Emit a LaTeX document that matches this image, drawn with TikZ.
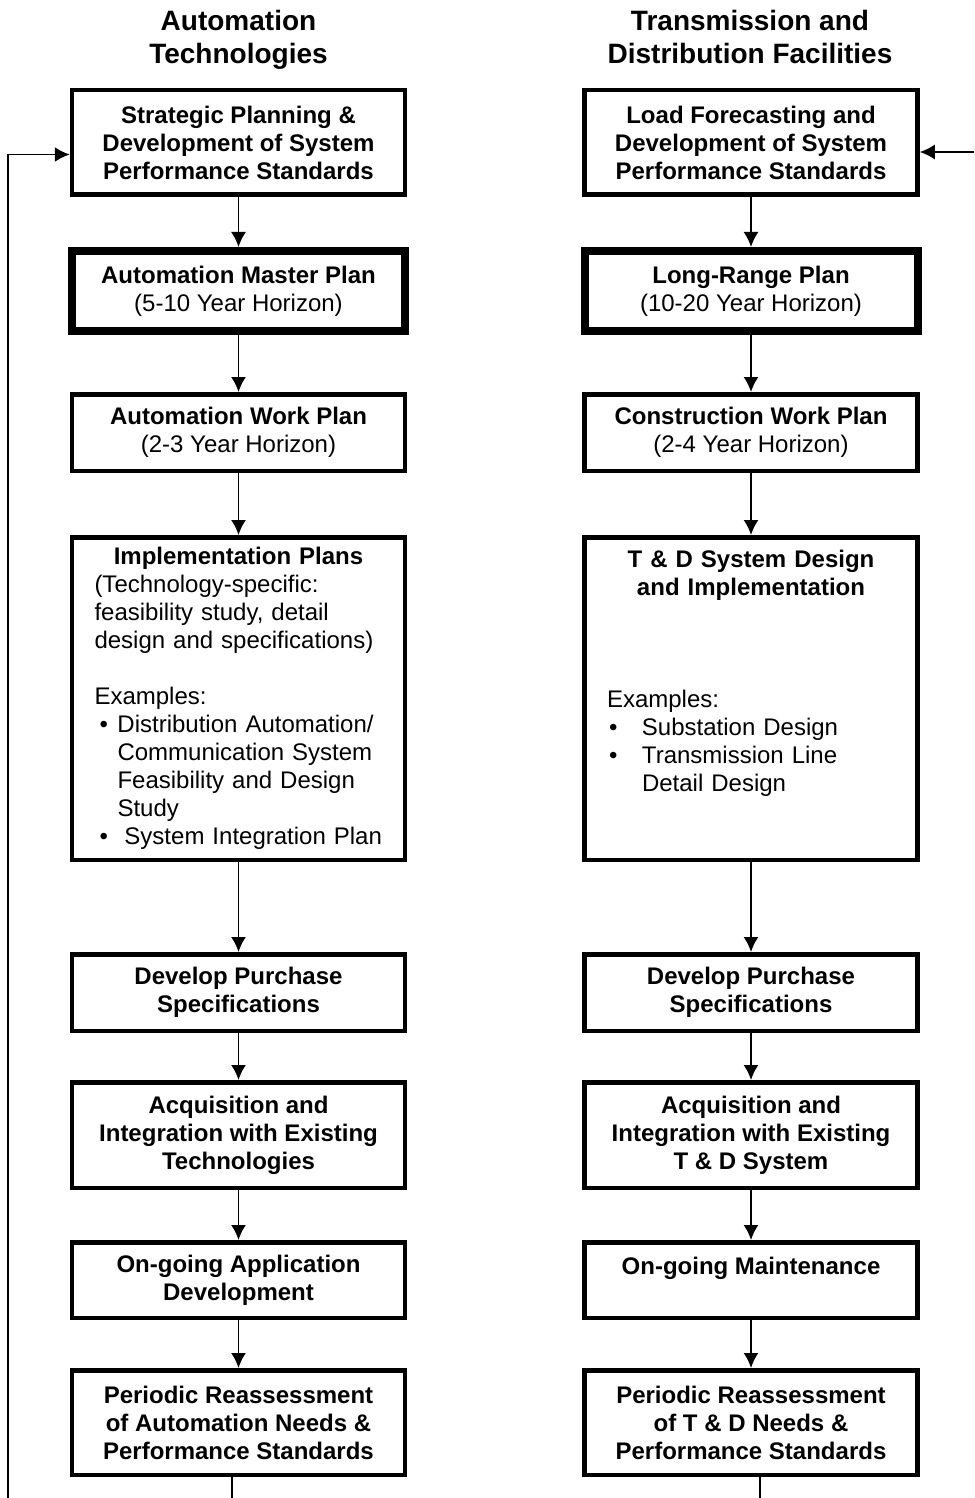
\documentclass[tikz,border=0pt]{standalone}
\usepackage{fontspec}
\setmainfont{Liberation Sans}
\usetikzlibrary{arrows.meta}
\setlength{\parindent}{0pt}
\newcommand{\bulitem}[2]{\hspace*{#1}\makebox[#2][l]{\textbullet}}

\begin{document}
\begin{tikzpicture}[x=0.5pt,y=-0.5pt,
    stage/.style ={draw, line width=2.25pt, minimum width=166.5pt, align=center,
                   inner sep=2pt, font=\fontsize{12}{14}\selectfont\bfseries},
    master/.style ={stage, line width=4pt},
    detail/.style ={stage, text width=144pt, align=left, inner xsep=11pt,
                    inner ysep=1pt, font=\fontsize{12}{14}\selectfont},
    heading/.style ={align=center, font=\fontsize{14}{16.5}\selectfont\bfseries},
    flow/.style ={line width=0.9pt, -{Latex[length=7.5pt,width=7.5pt]}},
    feed/.style ={line width=0.9pt}]
   \useasboundingbox (0,0) rectangle (974,1498);

   % column headings
   \node[heading] (hA) at (238.5,39.5) {Automation\\Technologies};
   \node[heading] (hT) at (750,36.5) {Transmission and\\Distribution Facilities};

   % automation column
   \node[stage, minimum height=52.25pt] (A1) at (238.5,142.5) {Strategic Planning \&\\Development of System\\Performance Standards};
   \node[master, minimum height=40pt] (A2) at (238.5,291) {Automation Master Plan\\\mdseries(5-10 Year Horizon)};
   \node[stage, minimum height=38.25pt] (A3) at (238.5,432.5) {Automation Work Plan\\\mdseries(2-3 Year Horizon)};
   \node[detail, minimum height=161.25pt] (A4) at (238.5,698.5) {{\centering\bfseries Implementation Plans\par}
      (Technology-specific:\\
      feasibility study, detail\\
      design and specifications)\\
      \mbox{}\\
      Examples:\\
      \bulitem{2.5pt}{9pt}Distribution Automation/\\
      \hspace*{11.5pt}Communication System\\
      \hspace*{11.5pt}Feasibility and Design\\
      \hspace*{11.5pt}Study\\
      \bulitem{2.5pt}{12.5pt}System Integration Plan};
   \node[stage, minimum height=38.25pt] (A5) at (238.5,992.5) {Develop Purchase\\Specifications};
   \node[stage, minimum height=52.75pt] (A6) at (238.5,1135) {Acquisition and\\Integration with Existing\\Technologies};
   \node[stage, minimum height=37.75pt] (A7) at (238.5,1280) {On-going Application\\Development};
   \node[stage, minimum height=52.25pt] (A8) at (238.5,1422.5) {Periodic Reassessment\\of Automation Needs \&\\Performance Standards};

   % T & D column
   \node[stage, minimum height=52.25pt] (T1) at (751,142.5) {Load Forecasting and\\Development of System\\Performance Standards};
   \node[master, minimum height=40pt] (T2) at (751,291) {Long-Range Plan\\\mdseries(10-20 Year Horizon)};
   \node[stage, minimum height=38.25pt] (T3) at (751,432.5) {Construction Work Plan\\\mdseries(2-4 Year Horizon)};
   \node[detail, minimum height=161.25pt] (T4) at (751,698.5) {{\centering\bfseries T \& D System Design\\and Implementation\par}
      \mbox{}\\
      \mbox{}\\
      \mbox{}\\
      Examples:\\
      \bulitem{1pt}{16.5pt}Substation Design\\
      \bulitem{1pt}{16.5pt}Transmission Line\\
      \hspace*{17.5pt}Detail Design\\
      \mbox{}\\
      \mbox{}};
   \node[stage, minimum height=38.25pt] (T5) at (751,992.5) {Develop Purchase\\Specifications};
   \node[stage, minimum height=52.75pt] (T6) at (751,1135) {Acquisition and\\Integration with Existing\\T \& D System};
   \node[stage, minimum height=37.75pt] (T7) at (751,1280) {On-going Maintenance\\\mbox{}};
   \node[stage, minimum height=52.25pt] (T8) at (751,1422.5) {Periodic Reassessment\\of T \& D Needs \&\\Performance Standards};

   \draw[flow] (A1) -- (A2);
   \draw[flow] (A2) -- (A3);
   \draw[flow] (A3) -- (A4);
   \draw[flow] (A4) -- (A5);
   \draw[flow] (A5) -- (A6);
   \draw[flow] (A6) -- (A7);
   \draw[flow] (A7) -- (A8);

   \draw[flow] (T1) -- (T2);
   \draw[flow] (T2) -- (T3);
   \draw[flow] (T3) -- (T4);
   \draw[flow] (T4) -- (T5);
   \draw[flow] (T5) -- (T6);
   \draw[flow] (T6) -- (T7);
   \draw[flow] (T7) -- (T8);

   % feedback loops
   \coordinate (fbA) at (8,1498);
   \coordinate (fbT) at (974,152);
   \coordinate (endA) at (232,1498);
   \coordinate (endT) at (760,1498);
   \draw[flow] (fbA) |- ([yshift=-6pt]A1.west);
   \draw[flow] (fbT) -- (fbT -| T1.east);
   \draw[feed] (A8.south -| endA) -- (endA);
   \draw[feed] (T8.south -| endT) -- (endT);
 \end{tikzpicture}
\end{document}
